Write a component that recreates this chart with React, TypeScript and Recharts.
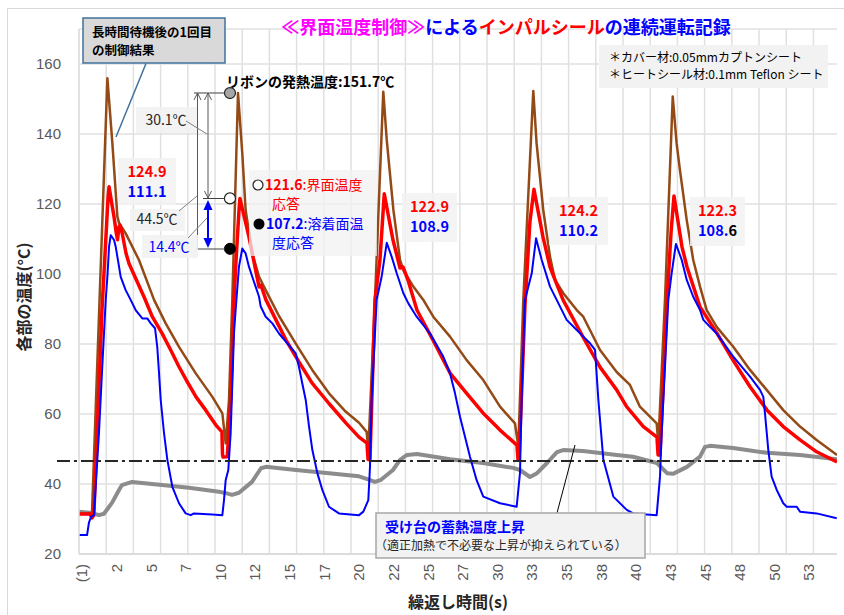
import React from 'react';
import { LineChart, Line, XAxis, YAxis, CartesianGrid, ReferenceLine, ReferenceDot } from 'recharts';

const X_MIN = 0;
const X_MAX = 54.73;
const yTicks = [20, 40, 60, 80, 100, 120, 140, 160];
const xTickLabels = ['(1)', '2', '5', '7', '10', '12', '15', '17', '20', '22', '25', '27', '30', '33', '35', '38', '40', '43', '45', '48', '50', '53'];
const xTickTimes = xTickLabels.map((_, i) => 0.2 + 2.5 * i);
const gridTimes = Array.from({ length: 27 }, (_, i) => (i + 1) * 1.964);
const baseLevel = 46.6;

// [time (s), temperature (°C)]
const graySeries: [number, number][] = [
  [0, 32.1], [0.94, 31.7], [1.44, 31.1], [1.8, 31.5], [2.38, 34.6], [2.89, 38.3], [3.1, 39.7], [3.83, 40.6],
  [6.0, 39.7], [7.94, 38.9], [10.11, 37.8], [10.61, 37.4], [11.05, 36.9], [11.55, 37.5], [12.49, 40.6],
  [13.14, 44.5], [13.5, 44.9], [15.67, 44.0], [18.05, 43.1], [20.22, 42.2], [20.87, 41.3], [21.37, 40.6],
  [21.81, 41.2], [22.67, 44.0], [23.18, 46.9], [23.68, 48.3], [24.4, 48.6], [26.79, 47.1], [29.17, 46.0],
  [31.34, 44.6], [31.84, 44.0], [32.56, 42.0], [33.07, 43.1], [33.79, 46.0], [34.51, 49.1], [34.95, 49.7],
  [36.39, 49.4], [38.84, 48.3], [40.0, 47.8], [41.73, 46.0], [42.46, 43.1], [42.89, 42.9], [43.9, 44.9],
  [44.84, 47.8], [45.2, 50.6], [45.56, 50.9], [47.22, 50.3], [49.68, 48.9], [52.06, 48.3], [54.73, 47.1],
];

const brownSeries: [number, number][] = [
  [0, 31.4], [0.94, 31.7], [2.05, 155.9], [2.41, 137.3], [2.77, 116.4], [2.89, 114.6], [3.37, 111.6], [4.33, 104],
  [5.42, 92.6], [6.26, 85.9], [7.22, 79.2], [8.43, 71.6], [9.63, 64.9], [10.35, 60.2], [10.59, 51.6], [10.83, 64],
  [11.07, 92.6], [11.48, 151.7], [11.79, 134.5], [12.03, 118.3], [12.51, 105.9], [13.0, 99.2], [13.48, 95.4],
  [14.44, 88], [15.64, 80.2], [16.84, 72.6], [18.05, 65.9], [19.25, 60.7], [20.22, 57.5], [20.77, 54.9],
  [20.89, 49.7], [21.37, 92.6], [21.97, 152.1], [22.22, 138.3], [22.7, 118.3], [23.18, 104], [23.42, 101.1],
  [24.14, 96.4], [24.86, 92.6], [25.58, 87.8], [26.79, 82.1], [27.99, 75.4], [29.19, 69.7], [30.4, 62.1],
  [31.48, 57.3], [31.72, 50.7], [32.08, 92.6], [32.8, 152.3], [33.04, 137.3], [33.52, 118.3], [34.01, 104.9],
  [34.37, 98.3], [34.97, 94.5], [35.94, 89.7], [36.41, 87.8], [37.62, 78.3], [38.82, 72], [39.78, 68.3],
  [40.5, 62.1], [41.71, 57.3], [41.83, 51.6], [42.31, 92.6], [42.87, 150.7], [43.15, 137.3], [43.39, 129.7],
  [43.88, 115.4], [44.35, 104], [44.84, 96.4], [45.32, 89.7], [46.04, 84.9], [47.24, 79.2], [48.45, 72.6],
  [49.65, 66.9], [50.85, 61.1], [52.06, 56.4], [53.26, 52.6], [54.73, 48.3],
];

const redSeries: [number, number][] = [
  [0, 31.4], [0.79, 31.4], [0.94, 30.3], [1.05, 31.0], [1.08, 32], [1.66, 89.7], [2.1, 122], [2.17, 124.9],
  [2.53, 116.3], [2.7, 111.5], [2.78, 109.8], [2.89, 113.5], [2.96, 114], [3.1, 112], [3.39, 106], [3.61, 103],
  [4.69, 93.5], [5.29, 87.8], [5.99, 83.1], [6.62, 78.3], [7.22, 73.5], [7.82, 69.2], [8.45, 64.9], [9.15, 61.1],
  [9.87, 56.9], [10.32, 54.9], [10.36, 48.5], [10.4, 47.7], [10.71, 47.8], [10.95, 64], [11.19, 92.6],
  [11.34, 104], [11.55, 118], [11.62, 121.6], [12.27, 110.6], [13.0, 96.3], [13.14, 96.8], [13.5, 92.6],
  [14.95, 81.1], [15.65, 76.4], [16.82, 68.9], [18.05, 63], [19.28, 57.4], [20.22, 53.4], [20.79, 51.7],
  [20.87, 47], [21.01, 46.9], [21.37, 92.6], [21.73, 104], [22.04, 122.9], [22.67, 109.7], [23.18, 101.7],
  [23.39, 102], [23.75, 98.3], [24.4, 89.7], [25.56, 81.1], [26.79, 71.7], [27.99, 65.9], [29.17, 60.3],
  [30.4, 55.4], [31.62, 51.1], [31.7, 46.9], [31.77, 46.9], [32.2, 91], [32.56, 115], [32.85, 124.2],
  [33.5, 110.6], [34.01, 102], [34.37, 98.3], [34.95, 92.6], [36.39, 82], [37.62, 73.4], [38.82, 66.9],
  [39.54, 62.1], [40.75, 56.4], [41.73, 53.4], [41.81, 48.3], [41.95, 48.3], [42.46, 92.6], [42.75, 112],
  [42.96, 122.3], [43.54, 107.7], [43.9, 102], [44.84, 90.6], [46.06, 83.1], [47.22, 75.4], [48.45, 67.8],
  [49.68, 61.1], [50.85, 56.4], [52.06, 52.6], [53.26, 49.2], [54.73, 46.3],
];

const blueSeries: [number, number][] = [
  [0, 25.4], [0.58, 25.4], [0.72, 29], [0.87, 30.6], [1.08, 31.1], [1.44, 54.5], [1.68, 73.5], [1.93, 92.6],
  [2.05, 99.2], [2.17, 107.8], [2.29, 111.1], [2.53, 109.7], [2.65, 107.8], [2.89, 102.1], [3.01, 99.2],
  [3.37, 95.4], [3.73, 92.6], [4.09, 89.7], [4.57, 87.3], [4.93, 87.3], [5.18, 85.9], [5.49, 84.5], [5.65, 79.2],
  [5.78, 71.6], [5.9, 64], [6.14, 54.5], [6.38, 46.9], [6.74, 39.2], [7.22, 34.5], [7.7, 31.6], [8.07, 31.1],
  [8.3, 31.6], [9.63, 31.3], [10.35, 31.1], [10.47, 35.4], [10.59, 41.1], [10.78, 44], [10.95, 54.5],
  [11.19, 83], [11.31, 89.7], [11.55, 102.1], [11.79, 107.3], [12.03, 105.9], [12.27, 102.1], [12.51, 99.2],
  [13.0, 93.5], [13.12, 90.7], [13.48, 87.8], [13.96, 85.9], [14.44, 83], [15.04, 80.2], [15.65, 77.3],
  [15.88, 73.5], [16.12, 68.8], [16.37, 64], [16.61, 56.4], [16.85, 49.7], [17.21, 43.1], [17.57, 38.3],
  [18.05, 33.5], [18.77, 31.6], [20.22, 31.1], [20.53, 32.1], [20.89, 35.4], [21.01, 44.9], [21.13, 64],
  [21.49, 92.6], [21.85, 99.2], [22.22, 108.9], [22.58, 104.9], [22.94, 100.2], [23.42, 94.5], [23.78, 91.6],
  [24.38, 87.8], [25.34, 83], [26.3, 76.4], [26.79, 71.6], [27.15, 65.9], [27.51, 59.2], [27.87, 53.5],
  [28.23, 47.8], [28.71, 41.1], [29.19, 36.4], [30.4, 34.5], [31.6, 33.5], [31.84, 43.1], [31.96, 64],
  [32.2, 92.6], [32.69, 100.2], [33.0, 110.2], [33.41, 104], [34.01, 96.4], [34.49, 92.6], [35.21, 86.9],
  [35.94, 84], [36.41, 82.1], [36.9, 80.2], [37.26, 78.3], [37.5, 64], [37.86, 46.9], [38.58, 36.4],
  [39.55, 32.6], [40.02, 31.6], [41.71, 31.1], [41.95, 42.1], [42.07, 54.5], [42.31, 73.5], [42.55, 92.6],
  [42.79, 100.2], [43.1, 108.6], [43.52, 104], [43.88, 98.3], [44.35, 93.5], [44.84, 89.7], [45.08, 86.9],
  [45.56, 84.9], [46.04, 83], [47.24, 76.4], [48.45, 70.7], [49.17, 66.9], [49.41, 64.9], [49.53, 60.2],
  [49.77, 49.7], [50.01, 42.1], [50.38, 38.3], [50.85, 34.5], [51.1, 33.5], [51.82, 33.5], [52.06, 32.1],
  [53.26, 31.6], [54.71, 30.2],
];

const markerTime = 10.9;
const ribbonPeak = 151.7;
const interfacePeak = 121.6;
const weldPeak = 107.2;

const toData = (pairs: [number, number][]) => pairs.map(([t, v]) => ({ t, v }));
const grayData = toData(graySeries);
const brownData = toData(brownSeries);
const redData = toData(redSeries);
const blueData = toData(blueSeries);

const JP = '"Noto Sans CJK JP", "Noto Sans", sans-serif';
const NUM = '"Liberation Sans", Arial, sans-serif';

const XTick = (props: any) => {
  const { x, y, payload } = props;
  const i = Math.round((payload.value - 0.2) / 2.5);
  return (
    <text
      x={x}
      y={y}
      transform={`rotate(-90, ${x}, ${y})`}
      textAnchor="end"
      dominantBaseline="central"
      fontSize={15}
      fill="#595959"
      fontFamily={NUM}
    >
      {xTickLabels[i]}
    </text>
  );
};

const gridGen = ({ xAxis, offset }: any) =>
  gridTimes.map((t) => {
    const s = xAxis && xAxis.scale;
    if (typeof s === 'function') return s(t);
    if (s && typeof s.map === 'function') return s.map(t);
    return offset.left + ((t - X_MIN) / (X_MAX - X_MIN)) * offset.width;
  });

const ValueBox = ({ x, y, w, h, red, blue, last }: any) => (
  <g>
    <rect x={x} y={y} width={w} height={h} fill="#f2f2f2" fillOpacity={0.85} />
    <text x={x + w / 2} y={y + 19} textAnchor="middle" fontSize={14.5} fontWeight="bold" fill="#ff0000" fontFamily={JP}>
      {red}
    </text>
    <text x={x + w / 2} y={y + 39} textAnchor="middle" fontSize={14.5} fontWeight="bold" fill="#0000ff" fontFamily={JP}>
      {blue}
      {last ? <tspan fill="#000">{last}</tspan> : null}
    </text>
  </g>
);

const Overlay = () => (
  <svg width={844} height={615} style={{ position: 'absolute', left: 0, top: 0, pointerEvents: 'none' }}>
    <line x1={7.5} y1={8.5} x2={844} y2={8.5} stroke="#d9d9d9" strokeWidth={1} />
    <line x1={7.5} y1={8.5} x2={7.5} y2={615} stroke="#d9d9d9" strokeWidth={1} />

    <text x={506} y={34} textAnchor="middle" fontSize={18} fontWeight="bold" fontFamily={JP}>
      <tspan fill="#ff00ff">≪界面温度制御≫</tspan>
      <tspan fill="#0000ff">による</tspan>
      <tspan fill="#ff0000">インパルシール</tspan>
      <tspan fill="#0000ff">の連続運転記録</tspan>
    </text>

    {/* top-left callout */}
    <rect x={83} y={18} width={142} height={45} fill="#d9d9d9" stroke="#41719c" strokeWidth={1.5} />
    <text x={92} y={36.5} fontSize={12.5} fontWeight="bold" fill="#000" fontFamily={JP}>長時間待機後の1回目</text>
    <text x={92} y={55} fontSize={12.5} fontWeight="bold" fill="#000" fontFamily={JP}>の制御結果</text>
    <line x1={146} y1={63.5} x2={116} y2={137} stroke="#41719c" strokeWidth={1.5} />

    {/* ribbon heat label */}
    <text x={226} y={87} fontSize={14} fontWeight="bold" fill="#000" fontFamily={JP}>リボンの発熱温度:151.7℃</text>

    {/* note box */}
    <rect x={599} y={45} width={229} height={43} fill="#f2f2f2" />
    <text x={609} y={62} fontSize={12} fill="#000" fontFamily={JP}>＊カバー材:0.05mmカプトンシート</text>
    <text x={609} y={79} fontSize={12} fill="#000" fontFamily={JP}>＊ヒートシール材:0.1mm Teflon シート</text>

    {/* dimension lines */}
    <line x1={194} y1={93} x2={225} y2={93} stroke="#404040" strokeWidth={1} />
    <line x1={203} y1={198.5} x2={225} y2={198.5} stroke="#404040" strokeWidth={1} />
    <line x1={196} y1={249} x2={225} y2={249} stroke="#404040" strokeWidth={1} />
    <line x1={197.5} y1={93} x2={197.5} y2={249} stroke="#595959" strokeWidth={1} />
    <polyline points="194,100 197.5,93 201,100" fill="none" stroke="#595959" strokeWidth={1} />
    <line x1={208} y1={93} x2={208} y2={198} stroke="#595959" strokeWidth={1} />
    <polyline points="204.5,100 208,93 211.5,100" fill="none" stroke="#595959" strokeWidth={1} />
    <polyline points="204.5,191 208,198 211.5,191" fill="none" stroke="#595959" strokeWidth={1} />
    <line x1={208} y1={205} x2={208} y2={243} stroke="#0000ff" strokeWidth={2} />
    <polygon points="208,200 203.5,210 212.5,210" fill="#0000ff" />
    <polygon points="208,248 203.5,238 212.5,238" fill="#0000ff" />

    <rect x={136} y={107} width={61} height={26} fill="#f2f2f2" fillOpacity={0.9} />
    <text x={166} y={125} textAnchor="middle" fontSize={14} fill="#262626" fontFamily={JP}>30.1℃</text>
    <line x1={186} y1={121} x2={207} y2={134} stroke="#7f7f7f" strokeWidth={1} />

    <rect x={130} y={209} width={55} height={22} fill="#f2f2f2" fillOpacity={0.9} />
    <text x={157} y={224} textAnchor="middle" fontSize={14} fill="#262626" fontFamily={JP}>44.5℃</text>
    <line x1={179} y1={211} x2={197} y2={196} stroke="#7f7f7f" strokeWidth={1} />

    <rect x={142} y={235} width={56} height={23} fill="#f2f2f2" fillOpacity={0.9} />
    <text x={169} y={252} textAnchor="middle" fontSize={14} fill="#0000ff" fontFamily={JP}>14.4℃</text>
    <line x1={188} y1={238} x2={207} y2={218} stroke="#7f7f7f" strokeWidth={1} />

    {/* value boxes */}
    <ValueBox x={118} y={158} w={58} h={47} red="124.9" blue="111.1" />
    <ValueBox x={402} y={193} w={55} h={49} red="122.9" blue="108.9" />
    <ValueBox x={549} y={197} w={59} h={48} red="124.2" blue="110.2" />
    <ValueBox x={690} y={197} w={55} h={49} red="122.3" blue="108." last="6" />

    {/* cycle 2 annotation */}
    <rect x={249} y={170} width={128} height={86} fill="#f2f2f2" fillOpacity={0.75} />
    <circle cx={258} cy={185} r={5} fill="#fff" stroke="#222" strokeWidth={1.2} />
    <text x={265} y={190} fontSize={14} fill="#ff0000" fontFamily={JP}>
      <tspan fontWeight="bold">121.6</tspan>
      <tspan>:界面温度</tspan>
    </text>
    <text x={272} y={209} fontSize={14} fill="#ff0000" fontFamily={JP}>応答</text>
    <circle cx={259} cy={224} r={5.5} fill="#000" />
    <text x={266} y={229} fontSize={14} fill="#0000ff" fontFamily={JP}>
      <tspan fontWeight="bold">107.2</tspan>
      <tspan>:溶着面温</tspan>
    </text>
    <text x={272} y={248} fontSize={14} fill="#0000ff" fontFamily={JP}>度応答</text>

    {/* bottom callout */}
    <line x1={557} y1={513} x2={575} y2={445} stroke="#000" strokeWidth={1} />
    <rect x={376} y={513} width={269} height={45} fill="#f2f2f2" stroke="#a6a6a6" strokeWidth={1.5} />
    <text x={385} y={532} fontSize={14} fontWeight="bold" fill="#0000ff" fontFamily={JP}>受け台の蓄熱温度上昇</text>
    <text x={375} y={550} fontSize={12} fill="#262626" fontFamily={JP}>（適正加熱で不必要な上昇が抑えられている）</text>

    {/* axis titles */}
    <text x={458} y={608} textAnchor="middle" fontSize={16} fontWeight="bold" fill="#262626" fontFamily={JP}>繰返し時間(s)</text>
    <text
      x={23}
      y={297}
      transform="rotate(-90, 23, 297)"
      textAnchor="middle"
      dominantBaseline="central"
      fontSize={16}
      fontWeight="bold"
      fill="#262626"
      fontFamily={JP}
    >
      各部の温度(°C)
    </text>
  </svg>
);

export default function App() {
  return (
    <div style={{ position: 'absolute', left: 0, top: 0, width: 844, height: 615, background: '#fff' }}>
      <LineChart width={844} height={615} margin={{ top: 29, right: 7, bottom: 21, left: 29 }}>
        <CartesianGrid
          stroke="#e0e0e0"
          strokeWidth={1.5}
          verticalCoordinatesGenerator={gridGen}
        />
        <XAxis
          dataKey="t"
          type="number"
          domain={[X_MIN, X_MAX]}
          ticks={xTickTimes}
          interval={0}
          allowDataOverflow
          height={40}
          tickSize={0}
          tickMargin={10}
          tickLine={false}
          axisLine={{ stroke: '#d9d9d9', strokeWidth: 1.5 }}
          tick={<XTick />}
        />
        <YAxis
          type="number"
          domain={[20, 170]}
          ticks={yTicks}
          interval={0}
          allowDataOverflow
          width={50}
          tickSize={0}
          tickMargin={18}
          tickLine={false}
          axisLine={{ stroke: '#d9d9d9', strokeWidth: 1.5 }}
          tick={{ fill: '#595959', fontSize: 15, fontFamily: NUM }}
        />
        <Line data={grayData} dataKey="v" type="linear" stroke="#8c8c8c" strokeWidth={4} dot={false} isAnimationActive={false} strokeLinejoin="round" />
        <Line data={brownData} dataKey="v" type="linear" stroke="#944a16" strokeWidth={2.5} dot={false} isAnimationActive={false} strokeLinejoin="round" />
        <Line data={redData} dataKey="v" type="linear" stroke="#ff0000" strokeWidth={3.5} dot={false} isAnimationActive={false} strokeLinejoin="round" />
        <Line data={blueData} dataKey="v" type="linear" stroke="#0000ff" strokeWidth={2} dot={false} isAnimationActive={false} strokeLinejoin="round" />
        <ReferenceLine
          segment={[{ x: -1.59, y: baseLevel }, { x: 50.6, y: baseLevel }]}
          stroke="#262626"
          strokeWidth={2}
          strokeDasharray="13 4 3 4"
          ifOverflow="visible"
        />
        <ReferenceDot x={markerTime} y={ribbonPeak} r={5.5} fill="#a6a6a6" stroke="#222" strokeWidth={1.2} ifOverflow="visible" />
        <ReferenceDot x={markerTime} y={interfacePeak} r={5.5} fill="#ffffff" stroke="#222" strokeWidth={1.2} ifOverflow="visible" />
        <ReferenceDot x={markerTime} y={weldPeak} r={5.5} fill="#000000" stroke="#000" strokeWidth={1} ifOverflow="visible" />
      </LineChart>
      <Overlay />
    </div>
  );
}
